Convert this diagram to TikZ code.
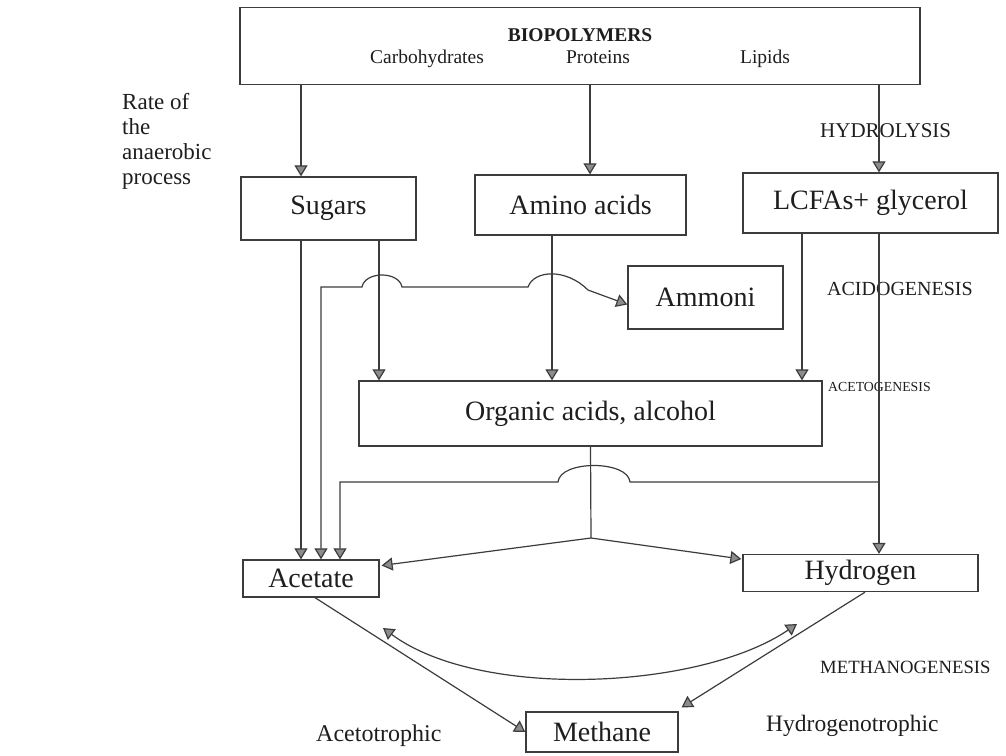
\documentclass[tikz,border=0pt]{standalone}
\usepackage{fontspec}
\setmainfont{Liberation Serif}
\usetikzlibrary{arrows.meta,calc}
\definecolor{lncol}{HTML}{3C3C3C}
\definecolor{tipcol}{HTML}{8C8C8C}
\definecolor{txtcol}{HTML}{1E1E1E}
\begin{document}
\begin{tikzpicture}[x=1pt,y=-1pt,
  ln/.style={draw=lncol, line width=1.2pt},
  arr/.style={ln, -{Triangle[width=13pt,length=11pt,fill=tipcol]}},
  barr/.style={ln, {Triangle[width=13pt,length=11pt,fill=tipcol]}-{Triangle[width=13pt,length=11pt,fill=tipcol]}},
  box/.style={draw=lncol, line width=1.3pt, inner sep=0pt, text=txtcol, font=\fontsize{28}{32}\selectfont},
  lbl/.style={inner sep=0pt, text=txtcol, anchor=base west}]
\fill[white] (0,0) rectangle (1006,755);
\useasboundingbox (0,0) rectangle (1006,755);
% x positions of connectors
\foreach \xx in {301,315,321,340,379,552,590,802,865,879}{\coordinate (X\xx) at (\xx,0);}
% boxes
\node[box, minimum width=680pt, minimum height=77pt] (bio) at (580,46) {};
\node[box, minimum width=175pt, minimum height=63pt] (sugars) at (328.5,208.5) {Sugars};
\node[box, minimum width=211pt, minimum height=60pt] (amino) at (580.5,205) {Amino acids};
\node[box, minimum width=255pt, minimum height=60pt] (lcfas) at (870.5,203) {LCFAs+ glycerol};
\node[box, minimum width=155pt, minimum height=63pt] (ammoni) at (705.5,297.5) {Ammoni};
\node[box, minimum width=463pt, minimum height=65pt] (organic) at (590.5,413.5) {Organic acids, alcohol};
\node[box, minimum width=136pt, minimum height=37pt] (acetate) at (311,578.5) {Acetate};
\node[box, minimum width=235pt, minimum height=37pt] (hydrogen) at (860.5,573) {Hydrogen};
\node[box, minimum width=152pt, minimum height=40pt] (methane) at (602,732) {Methane};
% texts in the top box
\node[lbl, anchor=base, font=\bfseries\fontsize{19.5}{22}\selectfont] (biot) at (580,41.5) {BIOPOLYMERS};
\node[lbl, anchor=base, font=\fontsize{19.5}{22}\selectfont] (carb) at (427,63) {Carbohydrates};
\node[lbl, anchor=base, font=\fontsize{19.5}{22}\selectfont] (prot) at (598,63) {Proteins};
\node[lbl, anchor=base, font=\fontsize{19.5}{22}\selectfont] (lip) at (765,63) {Lipids};
% left text
\node[lbl, font=\fontsize{23}{25}\selectfont] (r1) at (122,109) {Rate of};
\node[lbl, font=\fontsize{23}{25}\selectfont] (r2) at (122,134) {the};
\node[lbl, font=\fontsize{23}{25}\selectfont] (r3) at (122,159) {anaerobic};
\node[lbl, font=\fontsize{23}{25}\selectfont] (r4) at (122,184) {process};
% stage labels
\node[lbl, font=\fontsize{21}{24}\selectfont] (hyd) at (820,137) {HYDROLYSIS};
\node[lbl, font=\fontsize{20}{23}\selectfont] (acid) at (827,295) {ACIDOGENESIS};
\node[lbl, font=\fontsize{13.8}{16}\selectfont] (aceto) at (828,391) {ACETOGENESIS};
\node[lbl, font=\fontsize{18.7}{21}\selectfont] (meth) at (820,673) {METHANOGENESIS};
\node[lbl, font=\fontsize{24}{27}\selectfont] (acet) at (316,741) {Acetotrophic};
\node[lbl, font=\fontsize{23.5}{27}\selectfont] (hydro) at (766,731) {Hydrogenotrophic};
% connectors
\draw[arr] (bio.south -| X301) -- (sugars.north -| X301);
\draw[arr] (bio.south -| X590) -- (amino.north -| X590);
\draw[arr] (bio.south -| X879) -- (lcfas.north -| X879);
\draw[arr] (sugars.south -| X301) -- (acetate.north -| X301);
\draw[arr] (sugars.south -| X379) -- (organic.north -| X379);
\draw[arr] (amino.south -| X552) -- (organic.north -| X552);
\draw[arr] (lcfas.south -| X802) -- (organic.north -| X802);
\draw[arr] (lcfas.south -| X879) -- (hydrogen.north -| X879);
\draw[barr] (acetate.north -| X321) -- (321,287) -- (362,287)
  .. controls (365,271) and (399,271) .. (402,287) -- (528,287)
  .. controls (534,270) and (566,268) .. (588,290) -- ($(ammoni.west)+(0,7)$);
\coordinate (j1) at (879,482);
\draw[arr] (j1) -- (630,482) .. controls (628,460) and (560,460) .. (558,482)
  -- (340,482) -- (acetate.north -| X340);
\coordinate (apex) at (591,538);
\draw[ln] (organic.south) -- (apex);
\draw[arr] (apex) -- ($(acetate.east)+(2,-13)$);
\draw[arr] (apex) -- ($(hydrogen.west)+(-1,-14)$);
\draw[arr] (acetate.south -| X315) -- (methane.west);
\draw[arr] (hydrogen.south -| X865) -- ($(methane.north east)+(3,-4)$);
\coordinate (cl) at (383,628);
\coordinate (cr) at (797,624);
\draw[barr] (cl) .. controls (480,700) and (700,690) .. (cr);
\end{tikzpicture}
\end{document}
